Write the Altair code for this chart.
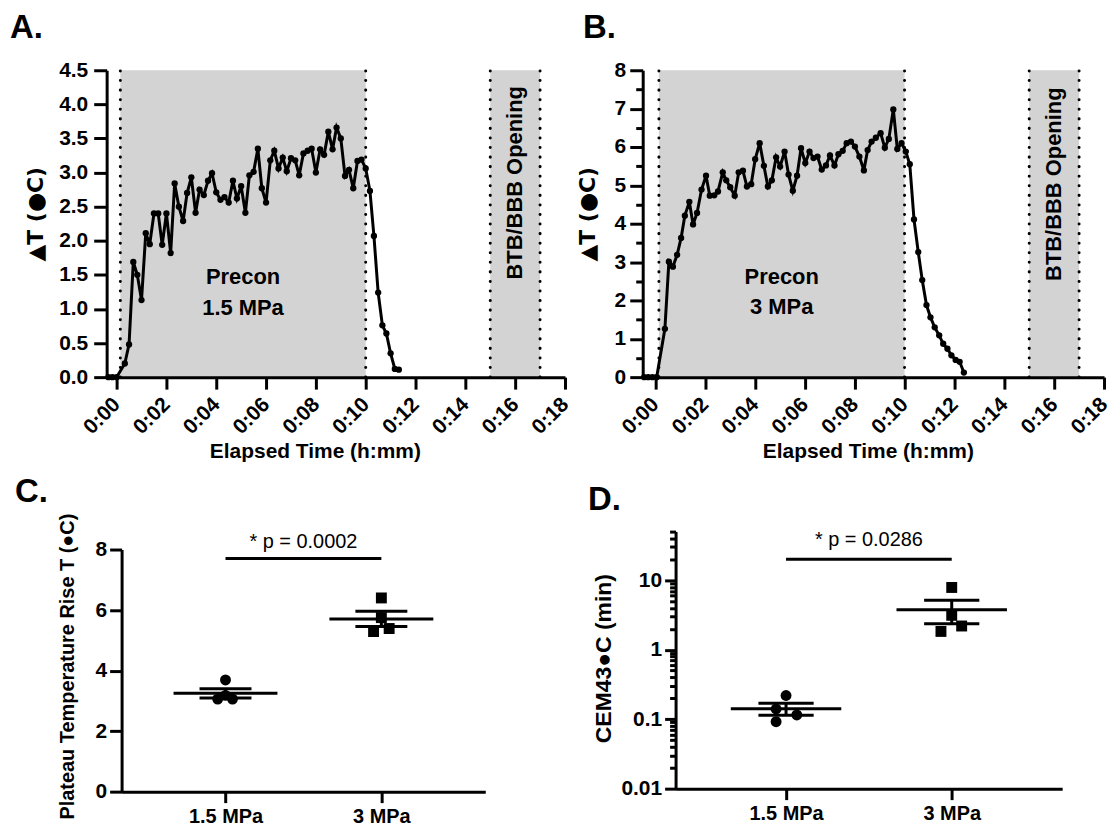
import altair as alt
import pandas as pd

FONT = "Liberation Sans"
SYM_FONT = "Liberation Sans, DejaVu Sans"
DV_FONT = "DejaVu Sans"
INK = "#000000"
SHADE = "#d3d3d3"

# ---------------- data ----------------
# Panel A: temperature rise during 1.5 MPa preconditioning (time in minutes)
a_time = [-0.33, -0.17, 0.00, 0.33, 0.50, 0.67, 0.83, 1.00, 1.17, 1.33, 1.50, 1.67, 1.83,
          2.00, 2.17, 2.33, 2.50, 2.67, 2.83, 3.00, 3.17, 3.33, 3.50, 3.67, 3.83, 4.00,
          4.17, 4.33, 4.50, 4.67, 4.83, 5.00, 5.17, 5.33, 5.50, 5.67, 5.83, 6.00, 6.17,
          6.33, 6.50, 6.67, 6.83, 7.00, 7.17, 7.33, 7.50, 7.67, 7.83, 8.00, 8.17, 8.33,
          8.50, 8.67, 8.83, 9.00, 9.17, 9.33, 9.50, 9.67, 9.83, 10.00, 10.17, 10.33, 10.50,
          10.67, 10.83, 11.00, 11.17, 11.33]
a_dT = [0.0, 0.0, 0.0, 0.20, 0.48, 1.69, 1.50, 1.13, 2.11, 1.95, 2.40, 2.40, 1.94,
        2.40, 1.82, 2.84, 2.50, 2.29, 2.70, 2.93, 2.41, 2.75, 2.67, 2.88, 2.99, 2.71,
        2.60, 2.64, 2.56, 2.88, 2.62, 2.80, 2.41, 2.96, 3.01, 3.35, 2.77, 2.56, 3.18,
        3.32, 3.06, 3.22, 3.02, 3.21, 3.18, 2.96, 3.28, 3.32, 3.35, 3.00, 3.34, 3.26,
        3.60, 3.34, 3.66, 3.50, 2.95, 3.04, 2.77, 3.17, 3.19, 3.06, 2.73, 2.07, 1.24,
        0.76, 0.64, 0.35, 0.12, 0.11]

# Panel B: temperature rise during 3 MPa preconditioning
b_time = [-0.44, -0.28, -0.11, 0.06, 0.39, 0.55, 0.71, 0.88, 1.04, 1.19, 1.37, 1.52, 1.68,
          1.86, 2.04, 2.19, 2.37, 2.52, 2.71, 2.85, 3.01, 3.19, 3.35, 3.52, 3.68, 3.85,
          4.01, 4.19, 4.36, 4.52, 4.68, 4.85, 5.01, 5.19, 5.35, 5.52, 5.69, 5.85, 6.02,
          6.19, 6.35, 6.51, 6.68, 6.85, 7.01, 7.19, 7.35, 7.52, 7.68, 7.85, 8.01, 8.19,
          8.37, 8.52, 8.68, 8.85, 9.04, 9.21, 9.37, 9.55, 9.71, 9.88, 10.05, 10.21, 10.38,
          10.55, 10.71, 10.88, 11.04, 11.21, 11.39, 11.55, 11.72, 11.88, 12.05, 12.21, 12.38]
b_dT = [0.0, 0.0, 0.0, 0.0, 1.26, 3.01, 2.88, 3.19, 3.63, 4.21, 4.57, 3.98, 4.28,
        4.89, 5.25, 4.73, 4.74, 4.84, 5.34, 5.13, 4.95, 4.73, 5.34, 5.38, 4.97, 5.03,
        5.68, 6.10, 5.51, 4.97, 5.13, 5.73, 5.49, 5.88, 5.28, 4.86, 5.25, 5.97, 5.58,
        5.88, 5.71, 5.75, 5.41, 5.52, 5.78, 5.52, 5.81, 5.90, 6.10, 6.14, 6.01, 5.75,
        5.39, 5.92, 6.14, 6.24, 6.36, 5.98, 6.21, 6.98, 5.95, 6.10, 5.88, 5.55, 4.11,
        3.26, 2.53, 1.88, 1.56, 1.30, 1.09, 0.87, 0.74, 0.57, 0.45, 0.40, 0.12]

precon_window = [0.15, 10.0]
btb_window = [15.0, 17.0]
time_ticks = [0, 2, 4, 6, 8, 10, 12, 14, 16, 18]

a_yticks = [0.0, 0.5, 1.0, 1.5, 2.0, 2.5, 3.0, 3.5, 4.0, 4.5]
b_yticks = [0, 0.5, 1, 1.5, 2, 2.5, 3, 3.5, 4, 4.5, 5, 5.5, 6, 6.5, 7, 7.5, 8]

a_labels = ["Precon", "1.5 MPa"]
a_labels_y = [1.47, 1.01]
b_labels = ["Precon", "3 MPa"]
b_labels_y = [2.60, 1.82]
btb_text = "BTB/BBB  Opening"
a_btb_y = 2.85
b_btb_y = 5.03

# Panels C and D: per-animal values
groups = ["1.5 MPa", "3 MPa"]
c_low = [3.69, 3.06, 3.06, 3.18]
c_high = [6.40, 5.75, 5.29, 5.39]
c_jit_low = [0.0, -0.05, 0.045, 0.0]
c_jit_high = [0.0, 0.0, -0.05, 0.05]
d_low = [0.219, 0.140, 0.115, 0.092]
d_high = [7.85, 3.12, 2.19, 1.83]
d_jit_low = [0.0, -0.06, 0.065, -0.06]
d_jit_high = [0.0, 0.0, 0.06, -0.065]
c_sig_text, c_sig_y = "* p = 0.0002", 7.7
d_sig_text, d_sig_y = "* p = 0.0286", 20.0

d_majors = [0.01, 0.1, 1, 10]
d_ticks = ([round(m * 0.01, 4) for m in range(1, 10)] + [round(m * 0.1, 4) for m in range(1, 10)]
           + list(range(1, 10)) + [10, 20, 30, 40, 50])


# ---------------- helpers ----------------
def base_axis(**kw):
    d = dict(domainColor=INK, domainWidth=3, tickColor=INK, tickWidth=3, grid=False,
             labelFont=FONT, labelFontWeight="bold", labelColor=INK, labelOverlap=False,
             labelFlush=False, titleFont=SYM_FONT, titleFontWeight="bold", titleColor=INK,
             zindex=1)
    d.update(kw)
    return alt.Axis(**d)


def letter_title(text, dx, dy):
    return alt.TitleParams(text=text, anchor="start", frame="group", dx=dx, dy=dy, offset=0,
                           font=FONT, fontSize=33, fontWeight="bold", color=INK,
                           baseline="alphabetic")


def time_panel(times, vals, ymax, yaxis, x_lo, width, height, labels, labels_y, btb_y,
               letter, letter_dx, xtitle_x):
    xs = alt.Scale(domain=[x_lo, 18], nice=False, zero=False)
    ys = alt.Scale(domain=[0, ymax], nice=False, zero=False)
    xaxis = base_axis(values=time_ticks,
                      labelExpr="'0:' + (datum.value < 10 ? '0' : '') + datum.value",
                      labelAngle=315, labelAlign="right", labelBaseline="middle",
                      labelFontSize=21, labelPadding=12, tickSize=12,
                      title="Elapsed Time (h:mm)", titleFontSize=21, titleX=xtitle_x,
                      titleY=75, titleAlign="center", titleBaseline="middle", titleAngle=0)

    def X(f):
        return alt.X(f"{f}:Q", scale=xs, axis=xaxis)

    def Y(f):
        return alt.Y(f"{f}:Q", scale=ys, axis=yaxis)

    windows = pd.DataFrame({"x1": [precon_window[0], btb_window[0]],
                            "x2": [precon_window[1], btb_window[1]],
                            "y1": [0.0, 0.0], "y2": [ymax, ymax]})
    edges = pd.DataFrame({"x": precon_window + btb_window,
                          "y1": [0.0] * 4, "y2": [ymax] * 4})
    trace = pd.DataFrame({"t": times, "v": vals})
    lab = pd.DataFrame({"x": [sum(precon_window) / 2] * len(labels), "y": labels_y,
                        "text": labels})
    btb = pd.DataFrame({"x": [sum(btb_window) / 2], "y": [btb_y], "text": [btb_text]})

    shade = alt.Chart(windows).mark_rect(color=SHADE).encode(
        x=X("x1"), x2="x2", y=Y("y1"), y2="y2")
    dots = alt.Chart(edges).mark_rule(color=INK, strokeWidth=3, strokeDash=[0.1, 9.5],
                                      strokeCap="round").encode(x=X("x"), y=Y("y1"), y2="y2")
    line = alt.Chart(trace).mark_line(color=INK, strokeWidth=3).encode(x=X("t"), y=Y("v"))
    pts = alt.Chart(trace).mark_circle(color=INK, size=40, opacity=1).encode(
        x=X("t"), y=Y("v"))
    txt = alt.Chart(lab).mark_text(font=FONT, fontSize=22, fontWeight="bold", color=INK).encode(
        x=X("x"), y=Y("y"), text="text:N")
    btbt = alt.Chart(btb).mark_text(font=FONT, fontSize=22, fontWeight="bold", color=INK,
                                    angle=270).encode(x=X("x"), y=Y("y"), text="text:N")
    return alt.layer(shade, dots, line, pts, txt, btbt).properties(
        width=width, height=height, title=letter_title(letter, letter_dx, 12))


def dot_panel(low, high, jl, jh, ys, yaxis, xrange, width, height, sig_text, sig_y, sig_dy,
              letter, letter_dx, letter_dy):
    xs = alt.Scale(domain=[1 / 3, 8 / 3], range=xrange, nice=False, zero=False)
    xaxis = base_axis(values=[1, 2],
                      labelExpr=f"datum.value === 1 ? '{groups[0]}' : '{groups[1]}'",
                      labelAngle=0, labelAlign="center", labelBaseline="top",
                      labelFontSize=20, labelPadding=4, tickSize=11, title=None)

    def X(f):
        return alt.X(f"{f}:Q", scale=xs, axis=xaxis)

    def Y(f):
        return alt.Y(f"{f}:Q", scale=ys, axis=yaxis)

    df = pd.DataFrame({"g": [groups[0]] * len(low) + [groups[1]] * len(high),
                       "pos": [1] * len(low) + [2] * len(high),
                       "jit": jl + jh, "v": low + high})
    pts = alt.Chart(df).transform_calculate(xp="datum.pos + datum.jit").mark_point(
        filled=True, opacity=1, size=120, color=INK).encode(
        x=X("xp"), y=Y("v"),
        shape=alt.Shape("g:N", scale=alt.Scale(domain=groups, range=["circle", "square"]),
                        legend=None))
    stats = alt.Chart(df).transform_aggregate(
        m="mean(v)", se="stderr(v)", groupby=["pos"]).transform_calculate(
        lo="datum.m - datum.se", hi="datum.m + datum.se",
        a1="datum.pos - 1/3", a2="datum.pos + 1/3",
        b1="datum.pos - 1/6", b2="datum.pos + 1/6")
    mean_rule = stats.mark_rule(color=INK, strokeWidth=3).encode(x=X("a1"), x2="a2", y=Y("m"))
    cap_hi = stats.mark_rule(color=INK, strokeWidth=3).encode(x=X("b1"), x2="b2", y=Y("hi"))
    cap_lo = stats.mark_rule(color=INK, strokeWidth=3).encode(x=X("b1"), x2="b2", y=Y("lo"))
    vert = stats.mark_rule(color=INK, strokeWidth=3).encode(x=X("pos"), y=Y("lo"), y2="hi")

    sig = pd.DataFrame({"x1": [1], "x2": [2], "xm": [1.5], "y": [sig_y], "label": [sig_text]})
    sig_rule = alt.Chart(sig).mark_rule(color=INK, strokeWidth=3).encode(
        x=X("x1"), x2="x2", y=Y("y"))
    sig_txt = alt.Chart(sig).mark_text(font=FONT, fontSize=20, color=INK, baseline="alphabetic",
                                       dy=sig_dy).encode(x=X("xm"), y=Y("y"), text="label:N")
    return alt.layer(pts, mean_rule, cap_hi, cap_lo, vert, sig_rule, sig_txt).properties(
        width=width, height=height, title=letter_title(letter, letter_dx, letter_dy))


# ---------------- panels ----------------
a_yaxis = base_axis(values=a_yticks, format=".1f", labelFontSize=21, labelPadding=6,
                    tickSize=13, title="▲T (●C)", titleFont=DV_FONT, titleFontSize=22,
                    titleAngle=270, titleX=-71, titleY=144, titleAlign="center",
                    titleBaseline="middle")
b_yaxis = base_axis(values=b_yticks,
                    labelExpr="datum.value % 1 === 0 ? format(datum.value, 'd') : ''",
                    labelFontSize=21, labelPadding=4,
                    tickSize={"condition": {"test": "datum.value % 1 === 0", "value": 13},
                              "value": 7},
                    title="▲T (●C)", titleFont=DV_FONT, titleFontSize=22, titleAngle=270,
                    titleX=-55, titleY=144, titleAlign="center", titleBaseline="middle")

panel_a = time_panel(a_time, a_dT, 4.5, a_yaxis, -0.4, 460, 308, a_labels, a_labels_y,
                     a_btb_y, "A.", -97, 209)
panel_b = time_panel(b_time, b_dT, 8, b_yaxis, -0.5, 463, 308, b_labels, b_labels_y,
                     b_btb_y, "B.", -60, 226)

c_ys = alt.Scale(domain=[0, 8], range=[261, 18], nice=False, zero=False)
c_yaxis = base_axis(values=[0, 2, 4, 6, 8], format="d", labelFontSize=21, labelPadding=3,
                    tickSize=12, offset=-15, title="Plateau Temperature Rise T (●C)",
                    titleFontSize=20, titleAngle=270, titleX=-54, titleY=135,
                    titleAlign="center", titleBaseline="middle")
panel_c = dot_panel(c_low, c_high, c_jit_low, c_jit_high, c_ys, c_yaxis, [15, 380], 380, 261,
                    c_sig_text, c_sig_y, -11, "C.", -92, 22)

d_ys = alt.Scale(type="log", domain=[0.01, 50], nice=False)
major_test = "indexof(" + str(d_majors) + ", datum.value) >= 0"
d_yaxis = base_axis(values=d_ticks,
                    labelExpr=major_test + " ? format(datum.value, '~g') : ''",
                    labelFontSize=21, labelPadding=3,
                    tickSize={"condition": {"test": major_test, "value": 11}, "value": 6},
                    offset=-33, title="CEM43●C (min)", titleFontSize=23, titleAngle=270,
                    titleX=-72, titleY=127, titleAlign="center", titleBaseline="middle")
panel_d = dot_panel(d_low, d_high, d_jit_low, d_jit_high, d_ys, d_yaxis, [33, 421], 421, 258,
                    d_sig_text, d_sig_y, -13, "D.", -55, 22)

chart = alt.concat(panel_a, panel_b, panel_c, panel_d, columns=2,
                   spacing={"row": 155, "column": 78}, bounds="flush", align="each").properties(
    padding={"left": 2, "top": 3, "right": 0, "bottom": 0}
).configure_view(strokeWidth=0)

chart.save("out.html", embed_options={"renderer": "svg", "actions": False})
